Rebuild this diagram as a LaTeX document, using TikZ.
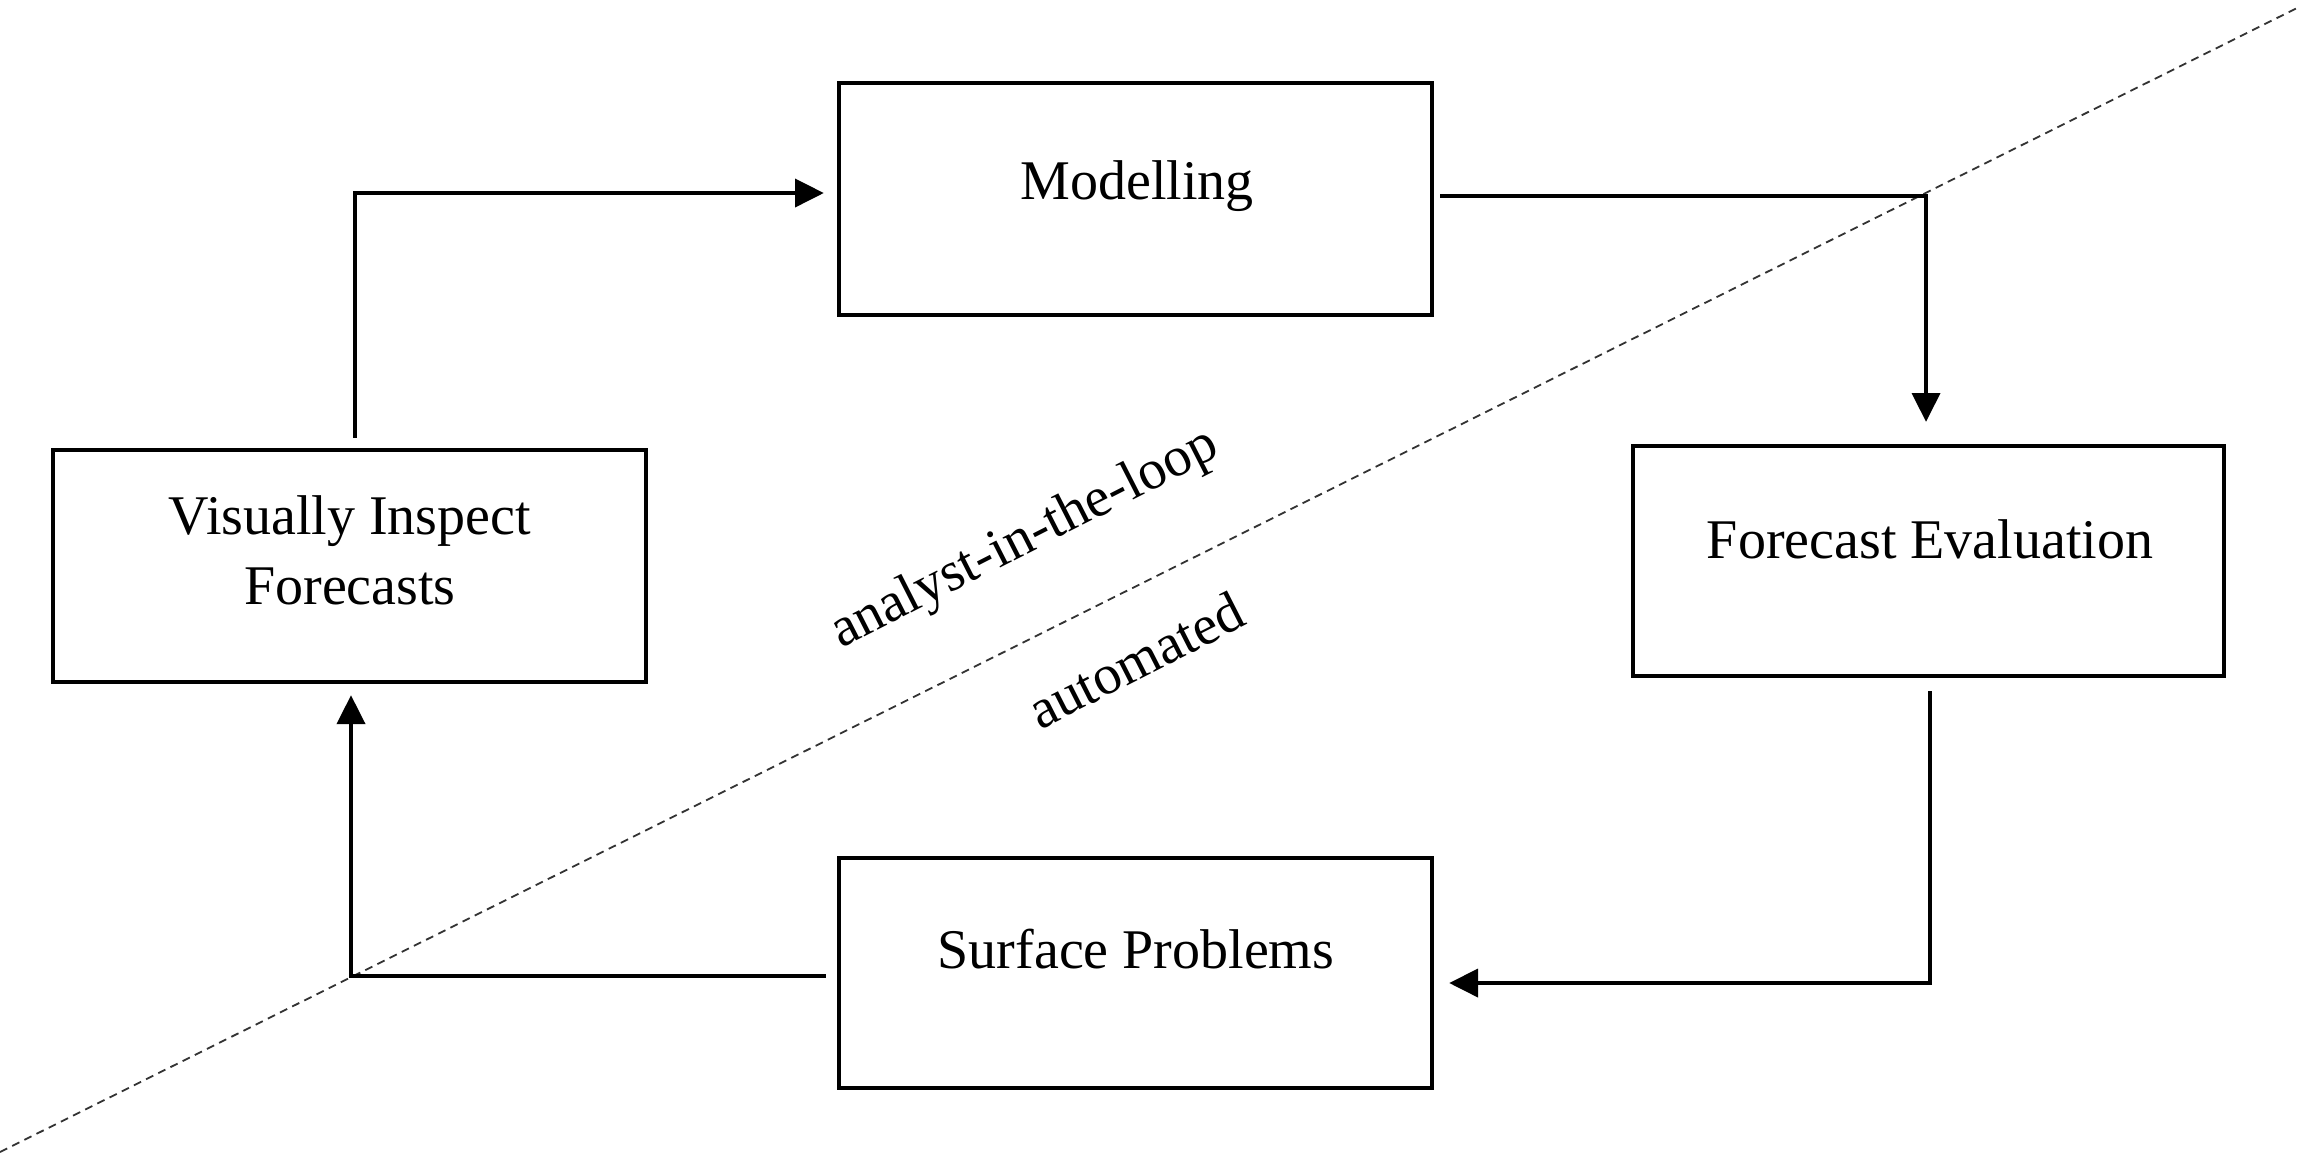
\documentclass[tikz,border=0pt]{standalone}
\usepackage{fontspec}
\setmainfont{Liberation Serif}
\usetikzlibrary{arrows.meta,calc}
\begin{document}
\begin{tikzpicture}[x=0.25pt,y=-0.25pt,
  box/.style={draw=black, line width=1.1pt, rectangle, inner sep=0pt,
    minimum width=148.25pt, minimum height=58pt},
  lbl/.style={inner sep=0pt, font=\fontsize{14}{17.5}\selectfont},
  conn/.style={draw=black, line width=0.95pt, -{Triangle[length=7.2pt,width=7pt]}},
  divider/.style={draw=black!80, line width=0.45pt, dash pattern=on 2pt off 1.4pt}]
\useasboundingbox (0,0) rectangle (2297,1161);
\fill[white] (0,0) rectangle (2297,1161);

% divider
\coordinate (d1) at (0,1152);
\coordinate (d2) at (2297,8);
\draw[divider] (d1) -- (d2);

% boxes
\node[box] (m)  at (1135.5,199) {};
\node[box] (vi) at (349.5,566) {};
\node[box, minimum width=147.75pt, minimum height=57.5pt] (fe) at (1928.5,561) {};
\node[box, minimum height=57.5pt] (sp) at (1135.5,973) {};

% box texts
\node[lbl, anchor=base] (mt)  at (1137,199) {Modelling};
\node[lbl, anchor=base] (vt1) at (350,534) {Visually Inspect};
\node[lbl, anchor=base] (vt2) at (350,604) {Forecasts};
\node[lbl, anchor=base] (ft)  at (1930,558) {Forecast Evaluation};
\node[lbl, anchor=base] (st)  at (1136,968) {Surface Problems};

% region labels
\node[lbl, rotate=27] (al) at (1025,540) {analyst-in-the-loop};
\node[lbl, rotate=27] (au) at (1136,660) {automated};

% connectors
\draw[conn] ($(vi.north)+(5.5,-10)$) |- ($(m.west)+(-13,-6)$);
\draw[conn] ($(m.east)+(6,-3)$) -| ($(fe.north)+(-2.5,-22)$);
\draw[conn] ($(fe.south)+(1.5,13)$) |- ($(sp.east)+(15,10)$);
\draw[conn] ($(sp.west)+(-11,3)$) -| ($(vi.south)+(1.5,11)$);
\end{tikzpicture}
\end{document}
